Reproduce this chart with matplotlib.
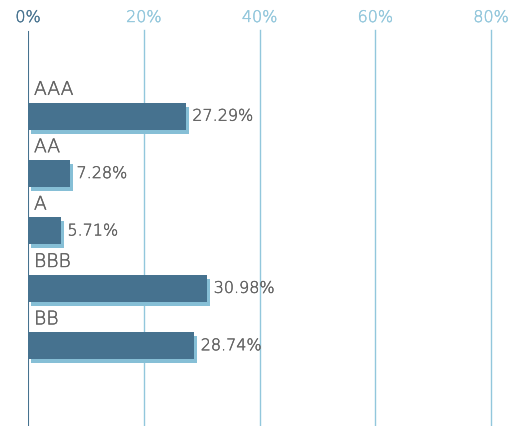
import matplotlib.pyplot as plt
import matplotlib.patheffects as pe
from matplotlib.ticker import FuncFormatter

# === Data ===
ratings = ["AAA", "AA", "A", "BBB", "BB"]
shares = [27.29, 7.28, 5.71, 30.98, 28.74]
x_ticks = [0, 20, 40, 60, 80]

# === Style ===
DARK = "#46728f"
LIGHT = "#86bfd6"
GRID = "#92c7dc"
TEXT = "#626262"
plt.rcParams["font.family"] = ["DejaVu Sans"]
plt.rcParams["font.weight"] = "light"


def bolder(color):
    # thicken the extra-light glyphs a little
    return [pe.withStroke(linewidth=0.3, foreground=color)]


fig = plt.figure(figsize=(5.2, 4.27), dpi=100)
ax = fig.add_axes([28 / 520, 0, 463 / 520, (427 - 31) / 427])

pos = list(range(len(ratings)))
bars = ax.barh(pos, shares, height=0.47, color=DARK, zorder=3)
for b in bars:
    b.set_path_effects([
        pe.SimplePatchShadow(offset=(2.2, -2.9), shadow_rgbFace=LIGHT, alpha=1),
        pe.Normal(),
    ])

for i, (name, v) in enumerate(zip(ratings, shares)):
    ax.annotate(f"{v:.2f}%", xy=(v, i), xytext=(4.6, -3.3), textcoords="offset points",
                va="baseline", ha="left", fontsize=11.5, color=TEXT, zorder=4,
                path_effects=bolder(TEXT))
    ax.annotate(name, xy=(0, i - 0.235), xytext=(4.3, 5.6), textcoords="offset points",
                va="baseline", ha="left", fontsize=13.5, color=TEXT,
                path_effects=bolder(TEXT))

ax.set_xlim(0, 80)
ax.set_ylim(5.40, -1.50)
ax.set_xticks(x_ticks)
ax.xaxis.set_major_formatter(FuncFormatter(lambda v, _: f"{v:.0f}%"))
ax.xaxis.tick_top()
ax.tick_params(axis="x", length=0, pad=3.6, labelsize=11.5, labelcolor=GRID)
for lbl in ax.get_xticklabels():
    lbl.set_path_effects(bolder(GRID))
ax.get_xticklabels()[0].set_color(DARK)
ax.get_xticklabels()[0].set_path_effects(bolder(DARK))
ax.set_yticks([])
for t in x_ticks[1:]:
    ax.axvline(t, color=GRID, linewidth=1, zorder=0, clip_on=False)
ax.axvline(0, color=DARK, linewidth=1.5, zorder=2, ymax=0.995)
for s in ax.spines.values():
    s.set_visible(False)

fig.savefig("out.png", dpi=100)
